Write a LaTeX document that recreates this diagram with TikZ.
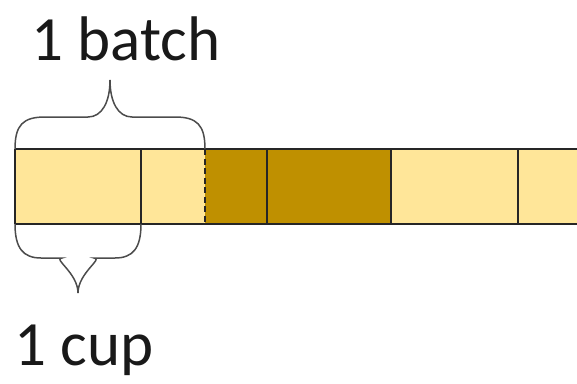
\documentclass[tikz,border=0pt]{standalone}
\usepackage{fontspec}
\setmainfont{Carlito}
\usepackage{tikz}
\usetikzlibrary{positioning, calc}
\definecolor{cuplight}{HTML}{FFE699}
\definecolor{cupdark}{HTML}{BF9000}

\begin{document}
\begin{tikzpicture}[x=1pt, y=-1pt,
	  cell/.style={
	  	rectangle,
	  	inner sep=0pt,
	  	outer sep=0pt,
	  	minimum height=75pt,
	  	anchor=north west
	  },
	  lightcell/.style={cell, fill=cuplight},
	  darkcell/.style={cell, fill=cupdark},
	  edge/.style={line width=2.5pt, draw=black!85},
	  curly/.style={line width=1.5pt, draw=black!70},
	  caption/.style={font=\fontsize{63}{70}\selectfont, text=black!90, anchor=base}]
	\useasboundingbox (0,0) rectangle (577,383);
	% Cells of the bar
	\node[lightcell, minimum width=126pt] (c1) at (15,149) {};
	\node[lightcell, minimum width=64pt, right=0pt of c1] (c2) {};
	\node[darkcell, minimum width=62pt, right=0pt of c2] (c3) {};
	\node[darkcell, minimum width=124pt, right=0pt of c3] (c4) {};
	\node[lightcell, minimum width=127pt, right=0pt of c4] (c5) {};
	\node[lightcell, minimum width=100pt, right=0pt of c5] (c6) {};
	% Outline and dividers
	\draw[edge] (c1.north west) -- (c6.north east);
	\draw[edge] (c1.south west) -- (c6.south east);
	\draw[edge] (c1.north west) -- (c1.south west);
	\draw[edge] (c1.north east) -- (c1.south east);
	\draw[edge, dash pattern=on 6pt off 3.5pt] (c2.north east) -- (c2.south east);
	\draw[edge] (c3.north east) -- (c3.south east);
	\draw[edge] (c4.north east) -- (c4.south east);
	\draw[edge] (c5.north east) -- (c5.south east);
	% Brace over the batch
	\coordinate (bt) at ($(c1.north west)!0.5!(c2.north east)+(-0,-69)$);
	\draw[curly] (c1.north west) .. controls +(0,-24) and +(-22,0) .. ++(30,-32) -- ($(bt)+(-22,37)$)
		.. controls +(14,0) and +(0,22) .. (bt)
		.. controls +(0,22) and +(-14,0) .. ($(bt)+(22,37)$) -- ($(c2.north east)+(-30,-32)$)
		.. controls +(22,0) and +(0,-24) .. (c2.north east);
	\node[caption] (batch) at ($(bt)+(16,-20)$) {1 batch};
	% Brace under the cup
	\coordinate (ct) at ($(c1.south west)!0.5!(c1.south east)+(0,69)$);
	\draw[curly] (c1.south west) .. controls +(0,24) and +(-18,0) .. ++(26,34) -- ($(ct)+(-16,-35)$)
		.. controls +(-10,0) and +(0,-20) .. (ct)
		.. controls +(0,-20) and +(10,0) .. ($(ct)+(16,-35)$) -- ($(c1.south east)+(-26,34)$)
		.. controls +(18,0) and +(0,24) .. (c1.south east);
	\node[caption] (cup) at ($(ct)+(6,72)$) {1 cup};
\end{tikzpicture}
\end{document}
